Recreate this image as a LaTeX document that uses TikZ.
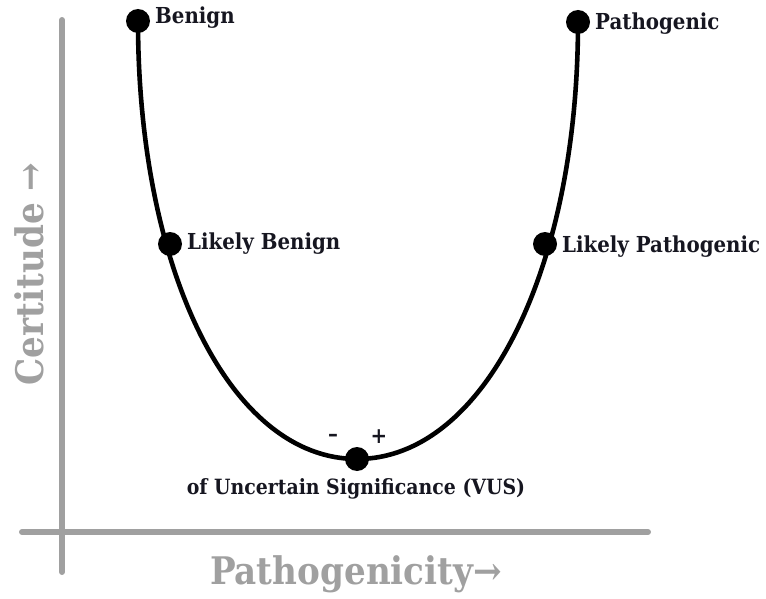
\documentclass[tikz,border=0pt]{standalone}
\usepackage{fontspec}
\setmainfont{DejaVu Serif Condensed}
\begin{document}
\begin{tikzpicture}[x=1pt,y=-1pt,
  axis/.style={line width=6pt,draw=axisgray,line cap=round},
  dot/.style={circle,fill=black,inner sep=0pt,minimum size=24pt},
  lbl/.style={font=\fontsize{22}{24}\selectfont\bfseries,text=labelink,inner sep=0pt},
  axlbl/.style={font=\fontsize{38}{42}\selectfont\bfseries,text=axisgray,inner sep=0pt},
  curve/.style={line width=4.6pt}]
\definecolor{axisgray}{RGB}{160,160,160}
\definecolor{labelink}{RGB}{22,22,32}
\useasboundingbox (0,0) rectangle (766,599);
% axes
\coordinate (yb) at (62,572);
\coordinate (yt) at (62,20);
\coordinate (xl) at (22,532);
\coordinate (xr) at (648,532);
\draw[axis] (yb) -- (yt);
\draw[axis] (xl) -- (xr);
\node[axlbl,rotate=90] (ylab) at (29,274) {Certitude →};
\node[axlbl] (xlab) at (356,574) {Pathogenicity→};
% classification points
\node[dot] (b) at (138,21) {};
\node[dot] (lb) at (170,244) {};
\node[dot] (vus) at (357,459) {};
\node[dot] (lp) at (545,244) {};
\node[dot] (p) at (578,22) {};
% curve
\draw[curve] (b.center) .. controls (138,270) and (230,459) .. (vus.center)
  .. controls (484,459) and (578,270) .. (p.center);
% labels
\node[lbl,anchor=west] (tb) at (155,18) {Benign};
\node[lbl,anchor=west] (tp) at (595,24) {Pathogenic};
\node[lbl,anchor=west] (tlb) at (187,244) {Likely Benign};
\node[lbl,anchor=west] (tlp) at (562,247) {Likely Pathogenic};
\node[lbl,font=\fontsize{21}{24}\selectfont\bfseries] (tv) at (356,489) {of Uncertain Significance (VUS)};
\node[lbl] (minus) at (333,438) {–};
\node[lbl] (plus) at (379,437) {+};
\end{tikzpicture}
\end{document}
